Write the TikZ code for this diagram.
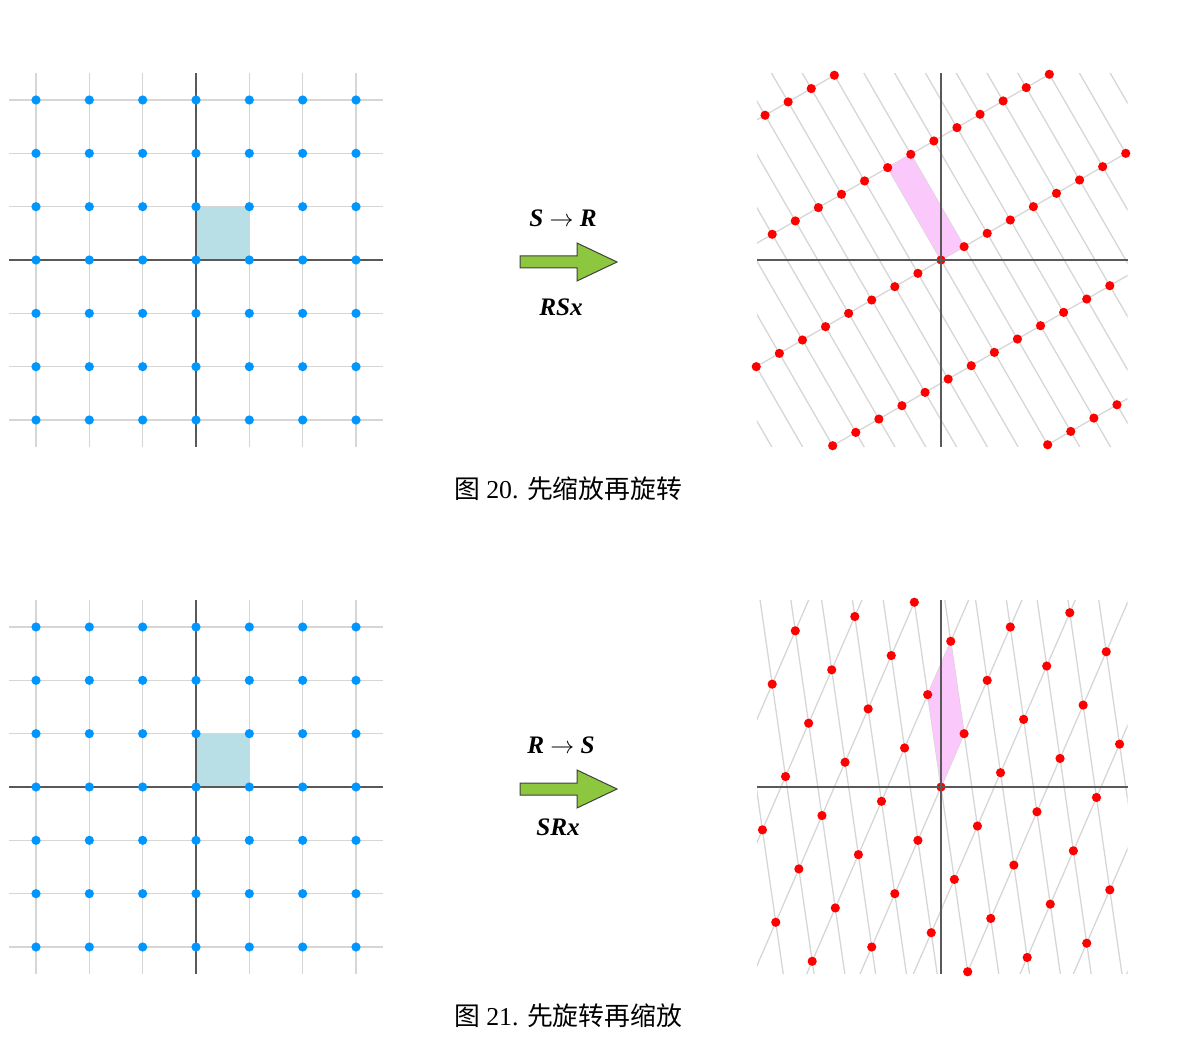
\documentclass[tikz,border=0pt]{standalone}
\usepackage{fontspec}
\setmainfont{Liberation Serif}
\newfontfamily\cjk{Noto Sans CJK SC}
\definecolor{dotblue}{RGB}{0,150,255}
\definecolor{sqblue}{RGB}{184,222,230}
\definecolor{pinkfill}{RGB}{250,200,250}
\definecolor{flowgreen}{RGB}{141,198,63}
\tikzset{
  gridline/.style={draw=black!16, line width=0.65pt},
  axisline/.style={draw=black!65, line width=0.8pt},
  bluedot/.style={fill=dotblue},
  reddot/.style={fill=red},
  flowarrow/.style={fill=flowgreen, draw=black!75, line width=0.5pt, line join=miter},
  optext/.style={font=\bfseries\itshape\fontsize{12.6}{14}\selectfont, anchor=base, inner sep=0pt},
  captext/.style={font=\fontsize{12.9}{15}\selectfont, anchor=base, inner sep=0pt},
}
% left (original) grid
\newcommand\origgrid[1]{%
  \begin{scope}[shift={(196,#1)}, x=26.667pt, y=26.667pt]
    \foreach \k in {-3,...,3} {
      \draw[gridline] (\k,-3.5) -- (\k,3.5);
      \draw[gridline] (-3.5,\k) -- (3.5,\k);
    }
    \fill[sqblue] (0,0) rectangle (1,1);
    \draw[axisline] (-3.5,0) -- (3.5,0);
    \draw[axisline] (0,-3.5) -- (0,3.5);
    \foreach \i in {-3,...,3} \foreach \j in {-3,...,3}
      \fill[bluedot] (\i,\j) circle (2.3pt);
  \end{scope}}
% transformed lattice: #1 = y origin, e1'=(#2,#3), e2'=(#4,#5)
\newcommand\tlattice[5]{%
  \begin{scope}[shift={(941,#1)}, x=26.667pt, y=26.667pt]
    \begin{scope}
      \clip (-3.45,-3.5) rectangle (3.5,3.5);
      \foreach \i in {-16,...,16}
        \draw[gridline] ({\i*#2-12*#4},{\i*#3-12*#5}) -- ({\i*#2+12*#4},{\i*#3+12*#5});
      \foreach \j in {-10,...,10}
        \draw[gridline] ({\j*#4-12*#2},{\j*#5-12*#3}) -- ({\j*#4+12*#2},{\j*#5+12*#3});
      \fill[pinkfill] (0,0) -- (#2,#3) -- ({#2+#4},{#3+#5}) -- (#4,#5) -- cycle;
    \end{scope}
    \foreach \i in {-16,...,16} \foreach \j in {-8,...,8} {
      \pgfmathsetmacro\px{\i*#2+\j*#4}
      \pgfmathsetmacro\py{\i*#3+\j*#5}
      \pgfmathtruncatemacro\ok{(abs(\px)<=3.5)&&(abs(\py)<=3.5)?1:0}
      \ifnum\ok=1 \fill[reddot] (\px,\py) circle (2.3pt); \fi
    }
    \draw[axisline] (-3.45,0) -- (3.5,0);
    \draw[axisline] (0,-3.5) -- (0,3.5);
  \end{scope}}
\begin{document}
\begin{tikzpicture}[x=0.5pt, y=-0.5pt]
  \useasboundingbox (0,0) rectangle (1189,1043);
  % ---------- figure 20 ----------
  \origgrid{260}
  \tlattice{260}{0.4330}{0.25}{-1}{1.7321}
  \node[optext] (opA) at (563,227) {S $\rightarrow$ R};
  \draw[flowarrow] (520,256) -- (577,256) -- (577,243) -- (617,262)
                   -- (577,281) -- (577,268) -- (520,268) -- cycle;
  \node[optext] (exA) at (561,315) {RSx};
  \node[captext] (capA) at (568,498) {{\cjk 图} 20. {\cjk 先缩放再旋转}};
  % ---------- figure 21 ----------
  \origgrid{787}
  \tlattice{787}{0.4330}{1}{-0.25}{1.7321}
  \node[optext] (opB) at (561,753) {R $\rightarrow$ S};
  \draw[flowarrow] (520,783) -- (577,783) -- (577,770) -- (617,789)
                   -- (577,808) -- (577,795) -- (520,795) -- cycle;
  \node[optext] (exB) at (558,835) {SRx};
  \node[captext] (capB) at (568,1025) {{\cjk 图} 21. {\cjk 先旋转再缩放}};
\end{tikzpicture}
\end{document}
